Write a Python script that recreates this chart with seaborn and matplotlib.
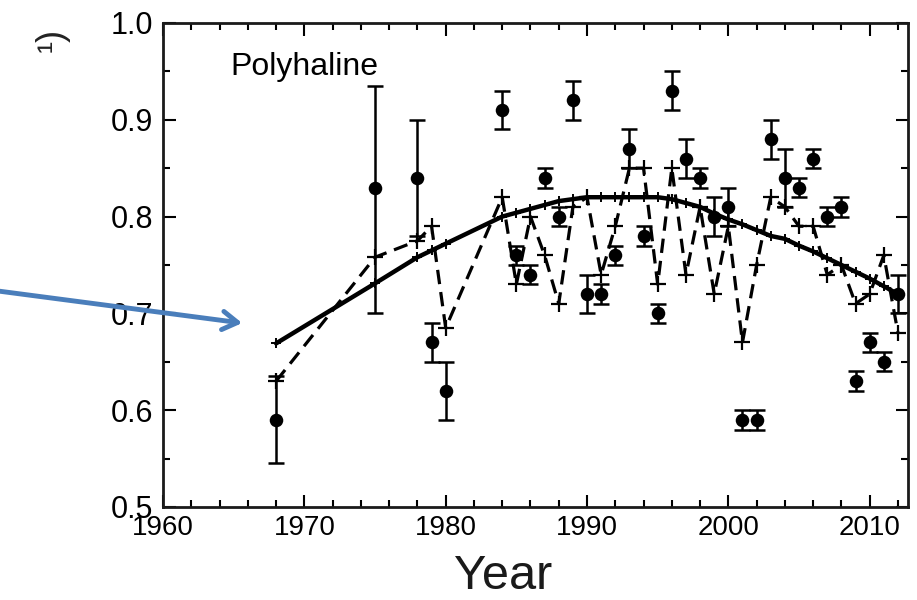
import numpy as np
import pandas as pd
import matplotlib
matplotlib.use("Agg")
import matplotlib.pyplot as plt
from matplotlib.ticker import MultipleLocator
import seaborn as sns

# ---------------- data ----------------
years = [1968, 1975, 1978, 1979, 1980, 1984, 1985, 1986, 1987, 1988, 1989,
         1990, 1991, 1992, 1993, 1994, 1995, 1996, 1997, 1998, 1999, 2000,
         2001, 2002, 2003, 2004, 2005, 2006, 2007, 2008, 2009, 2010, 2011, 2012]

observed = [0.59, 0.83, 0.84, 0.67, 0.62, 0.91, 0.76, 0.74, 0.84, 0.80, 0.92,
            0.72, 0.72, 0.76, 0.87, 0.78, 0.70, 0.93, 0.86, 0.84, 0.80, 0.81,
            0.59, 0.59, 0.88, 0.84, 0.83, 0.86, 0.80, 0.81, 0.63, 0.67, 0.65, 0.72]

err_low = [0.045, 0.13, 0.06, 0.02, 0.03, 0.02, 0.01, 0.01, 0.01, 0.01, 0.02,
           0.02, 0.01, 0.01, 0.02, 0.01, 0.01, 0.02, 0.02, 0.01, 0.02, 0.02,
           0.01, 0.01, 0.02, 0.03, 0.01, 0.01, 0.01, 0.01, 0.01, 0.01, 0.01, 0.02]

err_high = [0.045, 0.105, 0.06, 0.02, 0.03, 0.02, 0.01, 0.01, 0.01, 0.01, 0.02,
            0.02, 0.01, 0.01, 0.02, 0.01, 0.01, 0.02, 0.02, 0.01, 0.02, 0.02,
            0.01, 0.01, 0.02, 0.03, 0.01, 0.01, 0.01, 0.01, 0.01, 0.01, 0.01, 0.02]

model_annual = [0.63, 0.758, 0.775, 0.79, 0.685, 0.82, 0.73, 0.80, 0.76, 0.71, 0.81,
                0.82, 0.74, 0.79, 0.85, 0.85, 0.73, 0.85, 0.74, 0.81, 0.72, 0.79,
                0.67, 0.75, 0.82, 0.81, 0.79, 0.79, 0.74, 0.75, 0.71, 0.72, 0.76, 0.68]

model_trend = [0.669, 0.731, 0.758, 0.765, 0.772, 0.800, 0.804, 0.808, 0.812, 0.816, 0.818,
               0.820, 0.820, 0.820, 0.820, 0.820, 0.820, 0.818, 0.814, 0.810, 0.803, 0.797,
               0.792, 0.786, 0.780, 0.777, 0.770, 0.764, 0.757, 0.750, 0.743, 0.736, 0.728, 0.720]

x_ticks = [1960, 1970, 1980, 1990, 2000, 2010]
y_ticks = [0.5, 0.6, 0.7, 0.8, 0.9, 1.0]

df = pd.DataFrame({"Year": years, "obs": observed, "lo": err_low, "hi": err_high,
                   "annual": model_annual, "trend": model_trend})

# ---------------- style ----------------
sns.set_theme(style="ticks")
plt.rcParams["font.family"] = ["Liberation Sans", "DejaVu Sans"]

fig = plt.figure(figsize=(9.17, 6.0), dpi=100)
ax = fig.add_axes([0.1778, 0.155, 0.990 - 0.1778, 0.9617 - 0.155])

# dashed annual model with + markers
sns.lineplot(data=df, x="Year", y="annual", ax=ax, color="black", lw=2.3,
             marker="+", markersize=11, markeredgewidth=1.6, markeredgecolor="black",
             zorder=3, legend=False)
ax.lines[-1].set_linestyle((0, (4.5, 2.5)))

# solid trend with small + markers
sns.lineplot(data=df, x="Year", y="trend", ax=ax, color="black", lw=3.2,
             marker="+", markersize=7, markeredgewidth=1.4, markeredgecolor="black",
             zorder=4, legend=False)

# observed points with error bars
ax.errorbar(df["Year"], df["obs"], yerr=[df["lo"], df["hi"]], fmt="none",
            ecolor="black", elinewidth=1.8, capsize=6, capthick=1.8, zorder=5)
sns.scatterplot(data=df, x="Year", y="obs", ax=ax, color="black", s=95,
                edgecolor="black", linewidth=0, zorder=6, legend=False)

# axes
ax.set_xlim(1960, 2012.7)
ax.set_ylim(0.5, 1.0)
ax.set_xticks(x_ticks)
ax.set_yticks(y_ticks)
ax.set_xticklabels([str(v) for v in x_ticks])
ax.set_yticklabels([f"{v:.1f}" for v in y_ticks])
ax.xaxis.set_minor_locator(MultipleLocator(2))
ax.yaxis.set_minor_locator(MultipleLocator(0.05))
ax.tick_params(which="both", direction="in", top=True, right=True,
               width=1.5, color="black", labelcolor="black")
ax.tick_params(which="major", length=9)
ax.tick_params(which="minor", length=5)
ax.tick_params(axis="y", which="major", labelsize=22, pad=7)
ax.tick_params(axis="x", which="major", labelsize=20, pad=6)
for s in ax.spines.values():
    s.set_linewidth(2)
    s.set_color("#1a1a1a")
ax.set_xlabel("Year", fontsize=35, color="#1a1a1a")
ax.xaxis.set_label_coords((503 - 163) / 745, -0.097)
ax.set_ylabel("")

ax.text(1970, 0.955, "Polyhaline", fontsize=23, ha="center", va="center", color="black")

# partial y label remnant
fig.text(52 / 917, 1 - 40 / 600, "\u00b9)", rotation=90, fontsize=26,
         ha="center", va="center", color="#222222")

# blue arrow
ax.annotate("", xy=(1965.6, 0.69), xycoords="data",
            xytext=(-2, 600 - 291), textcoords="figure pixels",
            arrowprops=dict(arrowstyle="->,head_length=0.9,head_width=0.55",
                            color="#4a7ebb", lw=3.5, shrinkA=0, shrinkB=0),
            annotation_clip=False)

fig.savefig("out.png", dpi=100)
